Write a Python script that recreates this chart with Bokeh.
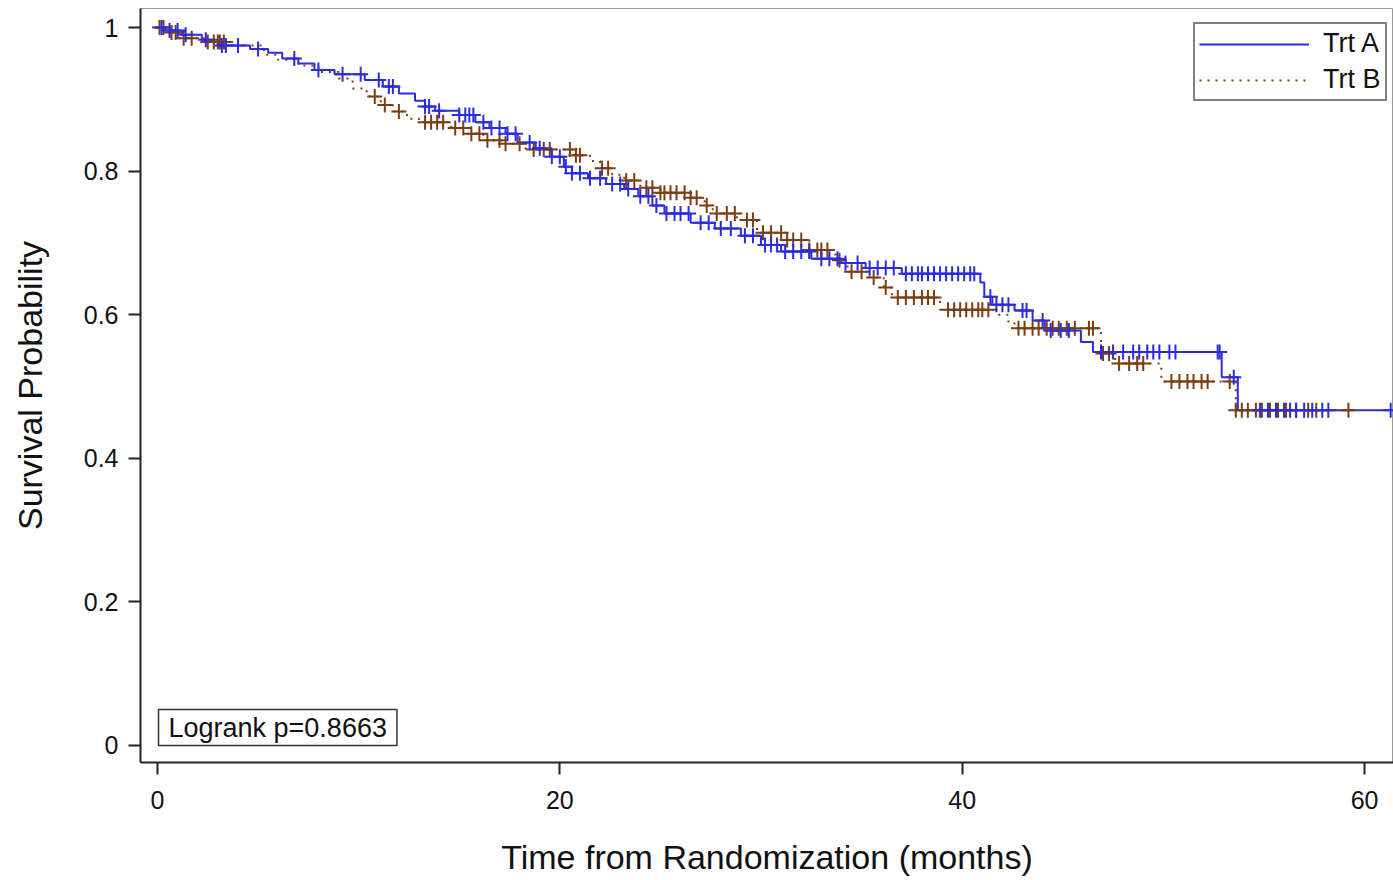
import numpy as np
from bokeh.plotting import figure
from bokeh.models import Range1d, FixedTicker, Legend, LegendItem, Label, ColumnDataSource
from bokeh.embed import file_html
from bokeh.resources import INLINE

# ---------------- data ----------------
time_A = [0, 0.4, 1.2, 2.2, 3.0, 4.6, 5.5, 6.2, 7.0, 7.8, 8.8, 10.3, 11.2, 12.0, 12.8, 13.3,
          13.8, 15.0, 15.8, 16.5, 17.3, 17.9, 18.8, 19.6, 20.2, 20.6, 21.4, 22.3, 23.2, 23.9,
          24.6, 25.2, 26.5, 27.7, 29.0, 30.0, 31.0, 32.5, 34.0, 35.2, 37.0, 40.9, 41.1, 41.5,
          42.6, 43.5, 44.1, 45.9, 46.5, 52.9, 53.7]
surv_A = [1.0, 0.996, 0.99, 0.983, 0.975, 0.97, 0.965, 0.957, 0.95, 0.941, 0.935, 0.927, 0.918,
          0.908, 0.898, 0.89, 0.884, 0.878, 0.868, 0.86, 0.852, 0.84, 0.832, 0.82, 0.806, 0.797,
          0.79, 0.782, 0.775, 0.765, 0.752, 0.741, 0.728, 0.72, 0.71, 0.697, 0.688, 0.678, 0.672,
          0.665, 0.657, 0.645, 0.625, 0.614, 0.606, 0.592, 0.578, 0.562, 0.548, 0.513, 0.467]
last_A = 61.3
cens_A = [0.2, 0.6, 1.0, 1.4, 2.4, 3.2, 3.4, 4.0, 5.0, 6.8, 8.0, 9.2, 10.1, 11.0, 11.5, 11.7,
          13.3, 13.5, 14.0, 15.0, 15.3, 15.5, 15.7, 16.2, 16.6, 17.0, 17.4, 17.8, 18.5, 19.0,
          19.6, 20.0, 20.3, 20.6, 21.0, 21.5, 22.0, 22.6, 23.0, 23.4, 24.0, 24.4, 24.8, 25.3,
          25.7, 26.0, 26.4, 27.0, 27.4, 28.0, 28.5, 29.2, 29.6, 30.2, 30.5, 30.8, 31.2, 31.6,
          32.0, 32.4, 33.0, 33.4, 33.8, 34.2, 34.8, 35.4, 35.8, 36.2, 36.6, 37.2, 37.5, 37.8,
          38.0, 38.3, 38.6, 38.9, 39.2, 39.5, 39.8, 40.1, 40.4, 40.6, 41.4, 41.7, 42.0, 42.3,
          43.0, 43.2, 44.0, 44.4, 44.9, 45.3, 46.9, 47.5, 48.0, 48.5, 48.8, 49.2, 49.5, 49.8,
          50.3, 50.6, 52.7, 52.8, 53.5, 54.8, 55.2, 55.6, 56.0, 56.3, 56.6, 57.0, 57.4, 57.9,
          58.2, 61.3]

time_B = [0, 0.5, 1.0, 2.5, 4.0, 5.3, 6.0, 7.0, 8.0, 9.0, 9.7, 10.4, 11.1, 11.7, 12.4, 13.0,
          14.6, 15.4, 16.2, 17.1, 18.3, 20.8, 21.5, 22.0, 22.6, 23.2, 24.0, 25.0, 26.5, 27.2,
          27.6, 28.8, 29.8, 31.3, 32.4, 33.7, 34.3, 35.4, 36.1, 36.5, 38.9, 41.8, 42.3, 42.6,
          46.9, 47.6, 49.9, 53.6]
surv_B = [1.0, 0.993, 0.985, 0.98, 0.975, 0.962, 0.955, 0.947, 0.938, 0.929, 0.915, 0.904,
          0.892, 0.883, 0.873, 0.868, 0.86, 0.852, 0.843, 0.838, 0.83, 0.822, 0.814, 0.804,
          0.795, 0.787, 0.777, 0.77, 0.763, 0.752, 0.741, 0.732, 0.714, 0.704, 0.69, 0.676,
          0.66, 0.652, 0.638, 0.624, 0.607, 0.6, 0.588, 0.581, 0.546, 0.532, 0.507, 0.467]
last_B = 59.2
cens_B = [0.1, 0.3, 0.7, 0.9, 1.3, 1.7, 2.5, 2.8, 3.0, 3.1, 3.3, 10.8, 11.3, 12.0, 13.3, 13.6,
          13.9, 14.2, 14.8, 15.2, 15.6, 16.0, 16.4, 17.0, 17.3, 18.0, 18.7, 19.2, 19.5, 20.5,
          20.8, 21.0, 22.1, 22.4, 23.3, 23.7, 24.3, 24.6, 25.0, 25.2, 25.5, 25.8, 26.2, 26.5,
          26.8, 27.3, 27.8, 28.3, 28.7, 29.3, 29.6, 30.1, 30.5, 31.0, 31.3, 31.6, 32.0, 32.4,
          32.8, 33.0, 33.3, 33.9, 34.5, 35.0, 35.6, 36.2, 36.8, 37.2, 37.6, 38.0, 38.3, 38.6,
          39.3, 39.6, 39.9, 40.2, 40.5, 40.8, 41.0, 41.3, 42.8, 43.1, 43.5, 43.8, 44.2, 44.5,
          44.8, 45.2, 45.6, 46.3, 46.5, 47.0, 47.3, 47.8, 48.3, 48.7, 49.0, 50.4, 50.8, 51.2,
          51.5, 51.9, 52.2, 53.3, 53.6, 53.9, 54.2, 54.6, 54.9, 55.3, 55.7, 56.1, 56.6, 57.2,
          57.6, 59.2]

group_names = ["Trt A", "Trt B"]
x_ticks = [0, 20, 40, 60]
y_ticks = [0, 0.2, 0.4, 0.6, 0.8, 1]
y_tick_labels = ["0", "0.2", "0.4", "0.6", "0.8", "1"]
pvalue_text = "Logrank p=0.8663"

# ---------------- styling ----------------
COL_A = "#2b2be0"
COL_B = "#7a3e12"
FONT = "Liberation Sans"


def surv_at(times, survs, t):
    idx = np.searchsorted(np.array(times), np.array(t), side="right") - 1
    return list(np.array(survs)[idx])


p = figure(width=1393, height=880, output_backend="svg", toolbar_location=None,
           x_range=Range1d(-0.845, 61.44), y_range=Range1d(-0.0237, 1.0265),
           min_border_left=140, min_border_right=0, min_border_top=8, min_border_bottom=118)
p.xgrid.visible = False
p.ygrid.visible = False
p.outline_line_color = "#9a9a9a"
p.outline_line_width = 1
p.background_fill_color = "white"

# step curves
rA = p.step(time_A + [last_A], surv_A + [surv_A[-1]], mode="after",
            line_color=COL_A, line_width=2)
rB = p.step(time_B + [last_B], surv_B + [surv_B[-1]], mode="after",
            line_color=COL_B, line_width=2, line_dash="2 6")

# censor marks
srcB = ColumnDataSource(dict(x=cens_B, y=surv_at(time_B, surv_B, cens_B)))
srcA = ColumnDataSource(dict(x=cens_A, y=surv_at(time_A, surv_A, cens_A)))
p.scatter("x", "y", source=srcB, marker="cross", size=15, line_color=COL_B, line_width=2)
p.scatter("x", "y", source=srcA, marker="cross", size=15, line_color=COL_A, line_width=2)

# axes
for ax in (p.xaxis, p.yaxis):
    ax.axis_line_width = 2
    ax.axis_line_color = "#222222"
    ax.major_tick_line_width = 2
    ax.major_tick_line_color = "#222222"
    ax.major_tick_out = 12
    ax.major_tick_in = 0
    ax.minor_tick_line_color = None
    ax.major_label_text_font = FONT
    ax.major_label_text_font_size = "25px"
    ax.major_label_text_color = "#111111"
    ax.axis_label_text_font = FONT
    ax.axis_label_text_font_size = "34px"
    ax.axis_label_text_font_style = "normal"
    ax.axis_label_text_color = "#111111"

p.xaxis.ticker = FixedTicker(ticks=x_ticks)
p.yaxis.ticker = FixedTicker(ticks=y_ticks)
p.yaxis.major_label_overrides = {t: l for t, l in zip(y_ticks, y_tick_labels)}
p.xaxis.axis_label = "Time from Randomization (months)"
p.yaxis.axis_label = "Survival Probability"
p.xaxis.major_label_standoff = 16
p.yaxis.major_label_standoff = 10
p.xaxis.axis_label_standoff = 26
p.yaxis.axis_label_standoff = 32

# legend
legend = Legend(items=[LegendItem(label=group_names[0], renderers=[rA]),
                       LegendItem(label=group_names[1], renderers=[rB])],
                location=(1053, 661))
legend.label_text_font = FONT
legend.label_text_font_size = "27px"
legend.label_text_color = "#111111"
legend.glyph_width = 110
legend.glyph_height = 30
legend.label_standoff = 14
legend.padding = 4
legend.spacing = 5
legend.margin = 0
legend.border_line_color = "black"
legend.border_line_width = 2
legend.background_fill_alpha = 1
p.add_layout(legend)

# logrank box
lab = Label(x=18, y=17, x_units="screen", y_units="screen", text=pvalue_text,
            text_font=FONT, text_font_size="27px", text_color="#111111",
            border_line_color="#333333", border_line_width=1.5,
            background_fill_color="white", padding=(10, 3))
p.add_layout(lab)

open("out.html", "w").write(file_html(p, INLINE))
